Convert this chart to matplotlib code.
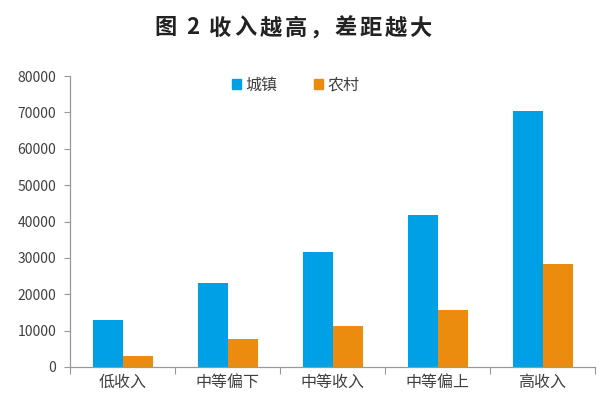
import matplotlib
matplotlib.use("Agg")
import matplotlib.pyplot as plt
import numpy as np
from matplotlib.patches import Rectangle

plt.rcParams['font.family'] = ['Noto Sans CJK SC', 'DejaVu Sans']

categories = ["低收入", "中等偏下", "中等收入", "中等偏上", "高收入"]
urban = [13004, 23055, 31522, 41806, 70348]
rural = [3006, 7828, 11159, 15727, 28448]
series_names = ["城镇", "农村"]
colors = ["#00A0E6", "#EB8C0E"]
yticks = list(range(0, 80001, 10000))
title = "图 2 收入越高，差距越大"

W, H = 600, 416
fig = plt.figure(figsize=(W/100, H/100), dpi=100)
ax = fig.add_axes([70/W, 1-367/H, 525/W, 291/H])

x = np.arange(len(categories))
w = 30/105
ax.bar(x - w/2, urban, width=w, color=colors[0], label=series_names[0])
ax.bar(x + w/2, rural, width=w, color=colors[1], label=series_names[1])

ax.set_xlim(-0.5, len(categories) - 0.5)
ax.set_ylim(0, 80000)
ax.set_yticks(yticks)
ax.set_yticklabels([str(v) for v in yticks], fontsize=10, color="#404040")

ax.set_xticks(np.arange(len(categories) + 1) - 0.5)
ax.set_xticklabels([])
ax.set_xticks(x, minor=True)
ax.set_xticklabels(categories, minor=True, fontsize=11.5, color="#404040")
ax.tick_params(axis='x', which='major', length=5, color="#999999", width=0.8)
ax.tick_params(axis='x', which='minor', length=0, pad=5)
ax.tick_params(axis='y', length=4, color="#999999", width=0.8, pad=6)

for s in ['top', 'right']:
    ax.spines[s].set_visible(False)
for s in ['left', 'bottom']:
    ax.spines[s].set_color("#999999")
    ax.spines[s].set_linewidth(0.9)

leg = fig.legend(handles=[Rectangle((0, 0), 1, 1, color=c) for c in colors],
                 labels=series_names, loc='center', bbox_to_anchor=(296/W, 1-85/H),
                 ncol=2, frameon=False, fontsize=11.5, handlelength=0.55, handleheight=0.55,
                 handletextpad=0.3, columnspacing=2.3)
for t in leg.get_texts():
    t.set_color("#404040")

# title with letter spacing (advance in pixels per character)
adv = {' ': 8, '2': 14}
xpos = 153
for ch in title:
    a = adv.get(ch, 25)
    if ch != ' ':
        fig.text((xpos + a/2)/W, 1-28/H, ch, ha='center', va='center',
                 fontsize=16, fontweight='bold', color="#222222")
    xpos += a

fig.savefig("out.png", dpi=100, facecolor="white")
